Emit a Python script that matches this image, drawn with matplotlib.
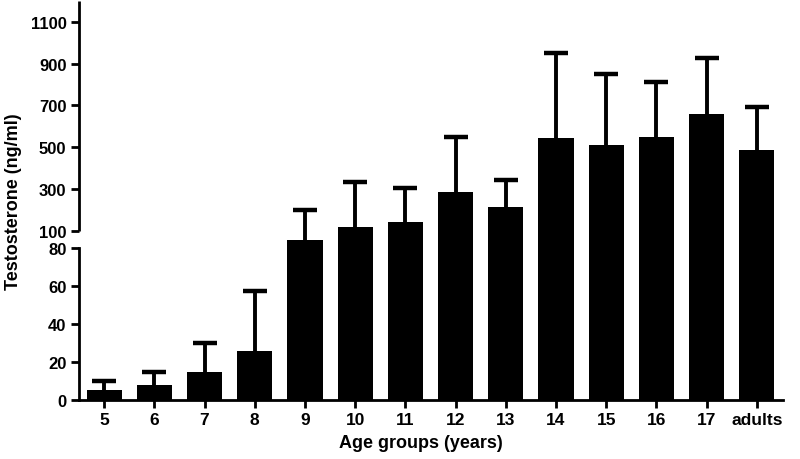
import numpy as np
import matplotlib
matplotlib.use("Agg")
import matplotlib.pyplot as plt

categories = ["5", "6", "7", "8", "9", "10", "11", "12", "13", "14", "15", "16", "17", "adults"]
means = [5.4, 8.1, 14.8, 25.7, 90, 116, 140, 287, 213, 542, 511, 550, 657, 488]
upper_err = [10.2, 14.9, 29.9, 57.7, 202, 336, 306, 550, 343, 953, 850, 813, 928, 695]
yticks = [0, 20, 40, 60, 80, 100, 300, 500, 700, 900, 1100]

plt.rcParams['font.family'] = ['Liberation Sans', 'DejaVu Sans']
plt.rcParams['font.weight'] = 'bold'


def fwd(v):
    v = np.asarray(v, dtype=float)
    return np.where(v <= 80, v * 1.895,
                    np.where(v <= 100, 151.6 + (v - 80) * 0.88,
                             169.2 + (v - 100) * 0.209))


def inv(p):
    p = np.asarray(p, dtype=float)
    return np.where(p <= 151.6, p / 1.895,
                    np.where(p <= 169.2, 80 + (p - 151.6) / 0.88,
                             100 + (p - 169.2) / 0.209))


fig = plt.figure(figsize=(8, 4.6), dpi=100)
ax = fig.add_axes([79 / 800, 59 / 460, 704 / 800, 399 / 460])
ax.set_yscale('function', functions=(fwd, inv))

x = np.arange(len(categories))
ax.vlines(x, means, upper_err, color='black', lw=2.8, zorder=1)
ax.plot(x, upper_err, linestyle='none', marker='_', markersize=17,
        markeredgewidth=3.2, color='black', zorder=1)
ax.bar(x, means, width=0.7, color='black', zorder=2)

ax.set_xlim(-0.5, 13.52)
ax.set_ylim(0, 1200)
ax.set_xticks(x)
ax.set_xticklabels(categories, fontsize=12.5, fontweight='bold')
ax.set_yticks(yticks)
ax.set_yticklabels([str(t) for t in yticks], fontsize=12, fontweight='bold')
ax.yaxis.set_minor_locator(matplotlib.ticker.NullLocator())

for s in ['top', 'right']:
    ax.spines[s].set_visible(False)
ax.spines['left'].set_linewidth(2)
ax.spines['bottom'].set_linewidth(2)
ax.spines['left'].set_bounds(0, 80)
ax.plot([0, 0], [100, 1200], transform=ax.get_yaxis_transform(), color='black',
        lw=2, clip_on=False, solid_capstyle='butt')
ax.tick_params(axis='both', direction='out', length=6, width=2, pad=3)

ax.set_xlabel("Age groups (years)", fontsize=13, fontweight='bold')
ax.xaxis.set_label_coords(0.485, -0.085)
ax.set_ylabel("Testosterone (ng/ml)", fontsize=13, fontweight='bold')
ax.yaxis.set_label_coords(-0.081, 0.5)

fig.savefig("out.png", dpi=100)
